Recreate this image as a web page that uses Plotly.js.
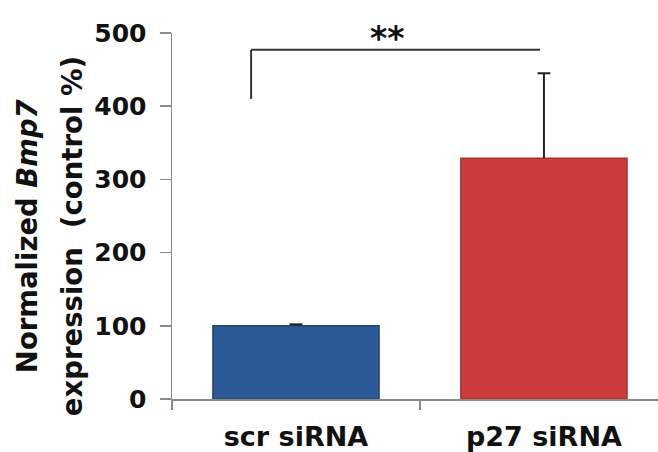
<!DOCTYPE html>
<html>
<head>
<meta charset="utf-8">
<script src="https://cdn.plot.ly/plotly-3.0.1.min.js"></script>
<style>html,body{margin:0;padding:0;background:#fff;}#chart{width:658px;height:452px;}</style>
</head>
<body>
<div id="chart"></div>
<script>
const categories = ["scr siRNA", "p27 siRNA"];
const values = [100, 329];
const errorsPlus = [2, 116];
const yTicks = [0, 100, 200, 300, 400, 500];
const barColors = ["#2c5a98", "#cc3c3c"];
const barEdges = ["#24456f", "#a93030"];

const FONT = "DejaVu Sans, sans-serif";

const trace = {
  type: "bar",
  x: categories,
  y: values,
  width: 0.67,
  marker: {color: barColors, line: {color: barEdges, width: 1.5}},
  error_y: {
    type: "data", symmetric: false,
    array: errorsPlus, arrayminus: [0, 0],
    color: "#222", thickness: 2, width: 0
  },
  hoverinfo: "none"
};

// top caps of the error bars, placed from the data arrays
const capShapes = values.map((v, i) => ({
  type: "line", xref: "x", yref: "y",
  x0: i - 0.026, x1: i + 0.026, y0: v + errorsPlus[i], y1: v + errorsPlus[i],
  line: {color: "#222", width: 2}
}));

const layout = {
  width: 658, height: 452,
  margin: {l: 172, r: 0, t: 33, b: 53},
  paper_bgcolor: "#fff", plot_bgcolor: "#fff",
  showlegend: false,
  xaxis: {
    type: "category",
    range: [-0.5, 1.46],
    showline: true, linecolor: "#8a8a8a", linewidth: 1.5,
    ticks: "outside", tickson: "boundaries", ticklen: 9, tickcolor: "#8a8a8a", tickwidth: 1.5,
    tickfont: {family: FONT, size: 27, color: "#111", weight: "bold"},
    ticklabelstandoff: 13,
    showgrid: false, zeroline: false, fixedrange: true
  },
  yaxis: {
    range: [0, 500],
    tickvals: yTicks,
    ticktext: yTicks.map(String),
    showline: true, linecolor: "#8a8a8a", linewidth: 1.5,
    ticks: "outside", ticklen: 11, tickcolor: "#8a8a8a", tickwidth: 1.5,
    tickfont: {family: FONT, size: 25, color: "#111", weight: "bold"},
    ticklabelstandoff: 8,
    showgrid: false, zeroline: false, fixedrange: true
  },
  shapes: [
    {type: "line", xref: "x", yref: "y", x0: -0.181, x1: -0.181, y0: 410, y1: 477,
     line: {color: "#333", width: 2}},
    {type: "line", xref: "x", yref: "y", x0: -0.181, x1: 0.984, y0: 477, y1: 477,
     line: {color: "#333", width: 2}}
  ].concat(capShapes),
  annotations: [
    {text: "**", xref: "x", yref: "y", x: 0.37, y: 477, yanchor: "bottom", showarrow: false,
     yshift: -10, font: {family: FONT, size: 33, color: "#111", weight: "bold"}},
    {text: "Normalized <i>Bmp7</i>", xref: "paper", yref: "paper", x: 0.0, y: 0.445,
     xanchor: "center", yanchor: "middle", textangle: -90, showarrow: false,
     xshift: -145, font: {family: FONT, size: 27.5, color: "#111", weight: "bold"}},
    {text: "expression  (control %)", xref: "paper", yref: "paper", x: 0.0, y: 0.445,
     xanchor: "center", yanchor: "middle", textangle: -90, showarrow: false,
     xshift: -100, font: {family: FONT, size: 27.5, color: "#111", weight: "bold"}}
  ]
};

Plotly.newPlot("chart", [trace], layout, {displayModeBar: false, staticPlot: true});
</script>
</body>
</html>
